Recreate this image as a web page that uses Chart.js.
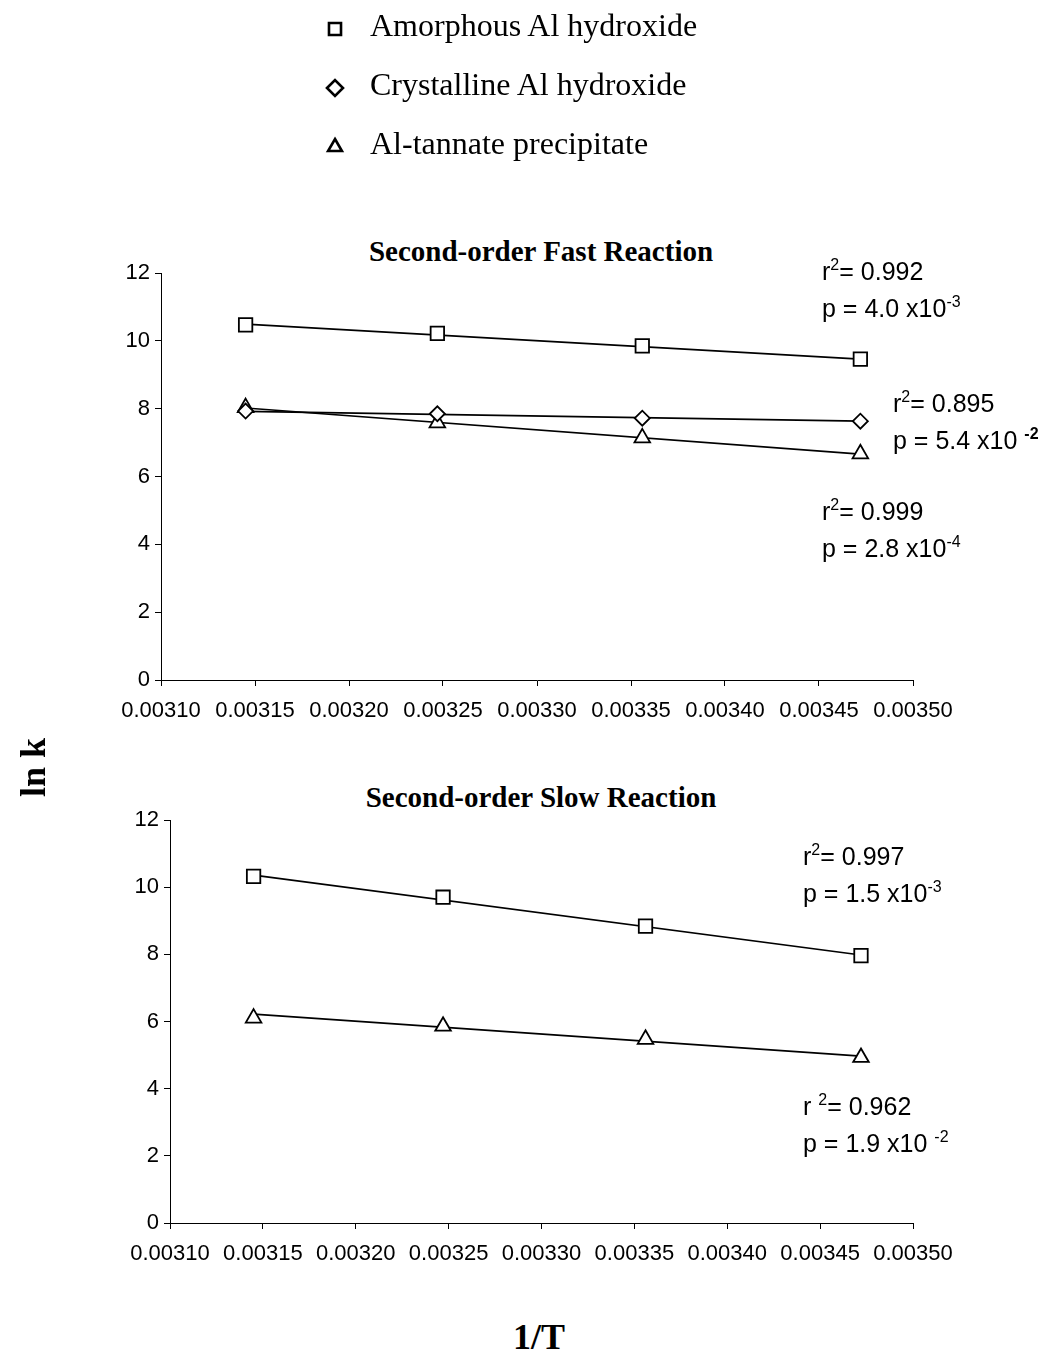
<!DOCTYPE html>
<html lang="en">
<head>
    <meta charset="UTF-8">
    <title>Second-order reactions: ln k vs 1/T</title>
    <script src="https://cdn.jsdelivr.net/npm/chart.js"></script>
    <style>
        body {
            margin: 0;
            width: 1040px;
            height: 1360px;
            position: relative;
            background: #fff;
            font-family: "Liberation Sans", Arial, sans-serif;
            color: #000;
        }
        .legend {
            position: absolute;
            left: 322px;
            top: 3px;
            font-family: "Liberation Serif", "Times New Roman", serif;
            font-size: 32px;
        }
        .legend div {
            height: 59px;
            line-height: 44px;
            white-space: nowrap;
        }
        .legend canvas {
            vertical-align: middle;
            margin-right: 22px;
        }
        .box {
            position: absolute;
        }
        .title {
            position: absolute;
            font-family: "Liberation Serif", "Times New Roman", serif;
            font-weight: bold;
            font-size: 29px;
            text-align: center;
            width: 600px;
        }
        .note {
            position: absolute;
            font-size: 25px;
            line-height: 37px;
            white-space: nowrap;
        }
        .note sup {
            font-size: 16px;
            vertical-align: 10px;
            line-height: 0;
        }
        .axis-title {
            position: absolute;
            font-family: "Liberation Serif", "Times New Roman", serif;
            font-weight: bold;
            font-size: 36px;
        }
    </style>
</head>
<body>
    <div class="legend">
        <div><canvas id="lg0" width="26" height="26"></canvas>Amorphous Al hydroxide</div>
        <div><canvas id="lg1" width="26" height="26"></canvas>Crystalline Al hydroxide</div>
        <div><canvas id="lg2" width="26" height="26"></canvas>Al-tannate precipitate</div>
    </div>

    <div class="title" style="left:241px; top:235px;">Second-order Fast Reaction</div>
    <div class="box" style="left:0; top:240px; width:1000px; height:490px;">
        <canvas id="fastChart"></canvas>
    </div>
    <div class="note" style="left:822px; top:253px;">r<sup>2</sup>= 0.992<br>p = 4.0 x10<sup>-3</sup></div>
    <div class="note" style="left:893px; top:385px;">r<sup>2</sup>= 0.895<br>p = 5.4 x10 <sup><b>-2</b></sup></div>
    <div class="note" style="left:822px; top:493px;">r<sup>2</sup>= 0.999<br>p = 2.8 x10<sup>-4</sup></div>

    <div class="title" style="left:241px; top:781px;">Second-order Slow Reaction</div>
    <div class="box" style="left:0; top:790px; width:1000px; height:490px;">
        <canvas id="slowChart"></canvas>
    </div>
    <div class="note" style="left:803px; top:838px;">r<sup>2</sup>= 0.997<br>p = 1.5 x10<sup>-3</sup></div>
    <div class="note" style="left:803px; top:1088px;">r <sup>2</sup>= 0.962<br>p = 1.9 x10 <sup>-2</sup></div>

    <div class="axis-title" style="left:12px; top:797px; transform:rotate(-90deg); transform-origin:left top;">ln k</div>
    <div class="axis-title" style="left:513px; top:1316px;">1/T</div>

    <script>
        // 1/T (K^-1) at the four temperatures
        const invT = [0.003145, 0.003247, 0.003356, 0.003472];
        const xTicks = [0.00310, 0.00315, 0.00320, 0.00325, 0.00330, 0.00335, 0.00340, 0.00345, 0.00350];
        const yTicks = [0, 2, 4, 6, 8, 10, 12];

        // ln k, fast reaction
        const fastAmorphous = [10.47, 10.22, 9.85, 9.46];
        const fastCrystalline = [7.93, 7.85, 7.72, 7.63];
        const fastTannate = [8.03, 7.58, 7.14, 6.67];
        // trendline values at first and last 1/T
        const fastAmorphousFit = [10.49, 9.46];
        const fastCrystallineFit = [7.92, 7.63];
        const fastTannateFit = [8.02, 6.66];

        // ln k, slow reaction
        const slowAmorphous = [10.32, 9.70, 8.84, 7.96];
        const slowTannate = [6.10, 5.86, 5.47, 4.93];
        const slowAmorphousFit = [10.36, 7.98];
        const slowTannateFit = [6.22, 4.97];

        const markers = {
            square: { pointStyle: 'rect', pointRadius: 9.5 },
            diamond: { pointStyle: 'rectRot', pointRadius: 7.5 },
            triangle: { pointStyle: 'triangle', pointRadius: 9 }
        };

        function pts(ys) {
            return ys.map((y, i) => ({ x: invT[i], y: y }));
        }

        function fitPts(ends) {
            return [{ x: invT[0], y: ends[0] }, { x: invT[invT.length - 1], y: ends[1] }];
        }

        function markerSet(ys, kind) {
            return {
                data: pts(ys),
                showLine: false,
                pointStyle: markers[kind].pointStyle,
                pointRadius: markers[kind].pointRadius,
                pointBackgroundColor: '#fff',
                pointBorderColor: '#000',
                pointBorderWidth: 1.8,
                order: 1
            };
        }

        function fitSet(ends) {
            return {
                data: fitPts(ends),
                showLine: true,
                borderColor: '#000',
                borderWidth: 1.7,
                pointRadius: 0,
                order: 2
            };
        }

        function makeChart(id, datasets, pad) {
            return new Chart(document.getElementById(id), {
                type: 'scatter',
                data: { datasets: datasets },
                options: {
                    responsive: true,
                    maintainAspectRatio: false,
                    animation: false,
                    layout: { padding: pad },
                    plugins: {
                        legend: { display: false },
                        tooltip: { enabled: false }
                    },
                    scales: {
                        x: {
                            type: 'linear',
                            min: 0.0031,
                            max: 0.0035,
                            afterBuildTicks: s => { s.ticks = xTicks.map(v => ({ value: v })); },
                            afterFit: s => { s.height = 44; },
                            grid: { drawOnChartArea: false, tickLength: 6, color: '#000', lineWidth: 1 },
                            border: { color: '#000', width: 1 },
                            ticks: {
                                autoSkip: false,
                                maxRotation: 0,
                                color: '#000',
                                padding: 12,
                                font: { family: 'Liberation Sans', size: 22 },
                                callback: v => Number(v).toFixed(5)
                            }
                        },
                        y: {
                            min: 0,
                            max: 12,
                            afterBuildTicks: s => { s.ticks = yTicks.map(v => ({ value: v })); },
                            afterFit: s => { s.width = 58; },
                            grid: { drawOnChartArea: false, tickLength: 6, color: '#000', lineWidth: 1 },
                            border: { color: '#000', width: 1 },
                            ticks: {
                                color: '#000',
                                padding: 5,
                                font: { family: 'Liberation Sans', size: 22 }
                            }
                        }
                    }
                }
            });
        }

        makeChart('fastChart', [
            markerSet(fastAmorphous, 'square'),
            markerSet(fastCrystalline, 'diamond'),
            markerSet(fastTannate, 'triangle'),
            fitSet(fastAmorphousFit),
            fitSet(fastCrystallineFit),
            fitSet(fastTannateFit)
        ], { left: 103, right: 87, top: 33, bottom: 6 });

        makeChart('slowChart', [
            markerSet(slowAmorphous, 'square'),
            markerSet(slowTannate, 'triangle'),
            fitSet(slowAmorphousFit),
            fitSet(slowTannateFit)
        ], { left: 112, right: 87, top: 30, bottom: 13 });

        // legend symbols, drawn with the same point styles
        ['square', 'diamond', 'triangle'].forEach((kind, i) => {
            const ctx = document.getElementById('lg' + i).getContext('2d');
            ctx.strokeStyle = '#000';
            ctx.fillStyle = '#fff';
            ctx.lineWidth = 2.6;
            Chart.helpers.drawPoint(ctx, {
                pointStyle: markers[kind].pointStyle,
                radius: kind === 'square' ? 8.5 : 8,
                borderWidth: 2.6
            }, 13, 13);
        });
    </script>
</body>
</html>
